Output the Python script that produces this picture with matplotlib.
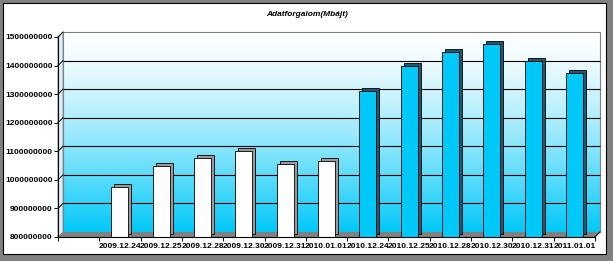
import numpy as np
import matplotlib
matplotlib.use("Agg")
import matplotlib.pyplot as plt
from matplotlib.patches import Rectangle, Polygon
from matplotlib.transforms import Affine2D, offset_copy

# adatok
napok = ["2009.12.24", "2009.12.25", "2009.12.28", "2009.12.30", "2009.12.31", "2010.01.01",
         "2010.12.24", "2010.12.25", "2010.12.28", "2010.12.30", "2010.12.31", "2011.01.01"]
forgalom = [975e6, 1048e6, 1076e6, 1101e6, 1055e6, 1066e6,
            1310e6, 1398e6, 1447e6, 1475e6, 1415e6, 1373e6]
szinek = ["white"] * 6 + ["#00c8f8"] * 6
oldal_szinek = ["#9a9a9a"] * 6 + ["#1d5a70"] * 6
y_ticks = [800e6, 900e6, 1000e6, 1100e6, 1200e6, 1300e6, 1400e6, 1500e6]
cim = "Adatforgalom(Mbájt)"

W, H = 613, 261
plt.rcParams['font.family'] = ['Liberation Sans', 'DejaVu Sans']

fig = plt.figure(figsize=(W / 100, H / 100), dpi=100)
fig.patch.set_facecolor("#808080")
px = Affine2D().scale(1 / W, -1 / H).translate(0, 1) + fig.transFigure

# keret
fig.patches.append(Rectangle((3, 3), 603, 251, transform=px, facecolor="white",
                             edgecolor="black", lw=0.8, zorder=-5))

ax = fig.add_axes([58 / W, (H - 237) / H, (595 - 58) / W, 200 / H])
ax.set_facecolor("none")
x = np.arange(len(napok))
x0, x1 = -1.5, len(napok) - 0.5

hatso = offset_copy(ax.transData, fig, x=5, y=5, units='dots')

# hátsó fal színátmenettel
t = np.linspace(0, 1, 256) ** 1.4
grad = np.zeros((256, 1, 3))
grad[:, 0, 0] = 1 - t
grad[:, 0, 1] = 1 - t * (1 - 200 / 255)
grad[:, 0, 2] = 1 - t * (1 - 248 / 255)
ax.imshow(grad, extent=[x0, x1, y_ticks[0], y_ticks[-1]],
          aspect='auto', transform=hatso, zorder=0, clip_on=False)
ax.add_patch(Rectangle((x0, y_ticks[0]), x1 - x0, y_ticks[-1] - y_ticks[0],
                       transform=hatso, fill=False, edgecolor="#808080", lw=0.8,
                       zorder=1, clip_on=False))

# rácsvonalak a hátsó falon
ax.hlines(y_ticks[1:-1], x0, x1, colors="black", lw=0.8,
          transform=hatso, zorder=1, clip_on=False)

# padló és oldalfal
ax.add_patch(Polygon([(58, 237), (595, 237), (600, 232), (63, 232)], transform=px,
                     facecolor="#808080", edgecolor="none", zorder=2, clip_on=False))
ax.add_patch(Polygon([(58, 37), (63, 32), (63, 232), (58, 237)], transform=px,
                     facecolor="#d8eef8", edgecolor="#808080", lw=0.6, zorder=2, clip_on=False))
for v in y_ticks[1:]:
    yy = 237 - (v - y_ticks[0]) / (y_ticks[-1] - y_ticks[0]) * 200
    ax.plot([58, 63], [yy, yy - 5], transform=px, color="black", lw=0.7, zorder=2, clip_on=False)
ax.plot([595, 600], [237, 232], transform=px, color="black", lw=0.7, zorder=2, clip_on=False)

# oszlopok (árnyék + előlap)
arnyek = offset_copy(ax.transData, fig, x=3, y=3, units='dots')
ax.bar(x, np.array(forgalom) - y_ticks[0], bottom=y_ticks[0], width=0.41,
       color=oldal_szinek, edgecolor="black", lw=0.6, transform=arnyek, zorder=3)
ax.bar(x, np.array(forgalom) - y_ticks[0], bottom=y_ticks[0], width=0.41,
       color=szinek, edgecolor="black", lw=0.6, zorder=4)

# tengelyek
ax.set_xlim(x0, x1)
ax.set_ylim(y_ticks[0], y_ticks[-1])
for s in ["top", "right"]:
    ax.spines[s].set_visible(False)
ax.spines["left"].set_linewidth(0.8)
ax.spines["bottom"].set_linewidth(0.8)
ax.spines["left"].set_zorder(5)
ax.spines["bottom"].set_zorder(5)
ax.set_yticks(y_ticks)
ax.set_yticklabels([f"{v:.0f}" for v in y_ticks], fontsize=6, fontweight="bold")
ax.set_xticks(x)
ax.set_xticklabels(napok, fontsize=6, fontweight="bold")
ax.set_xticks(np.arange(x0, len(napok)), minor=True)
ax.tick_params(axis="x", which="major", length=0, pad=4)
ax.tick_params(axis="x", which="minor", length=3, width=0.7)
ax.tick_params(axis="y", length=3, width=0.7, pad=1)

fig.text(307 / W, 1 - 14 / H, cim, ha="center", va="center", fontsize=6,
         fontweight="bold", fontstyle="italic")

fig.savefig("out.png", dpi=100, facecolor=fig.get_facecolor())
